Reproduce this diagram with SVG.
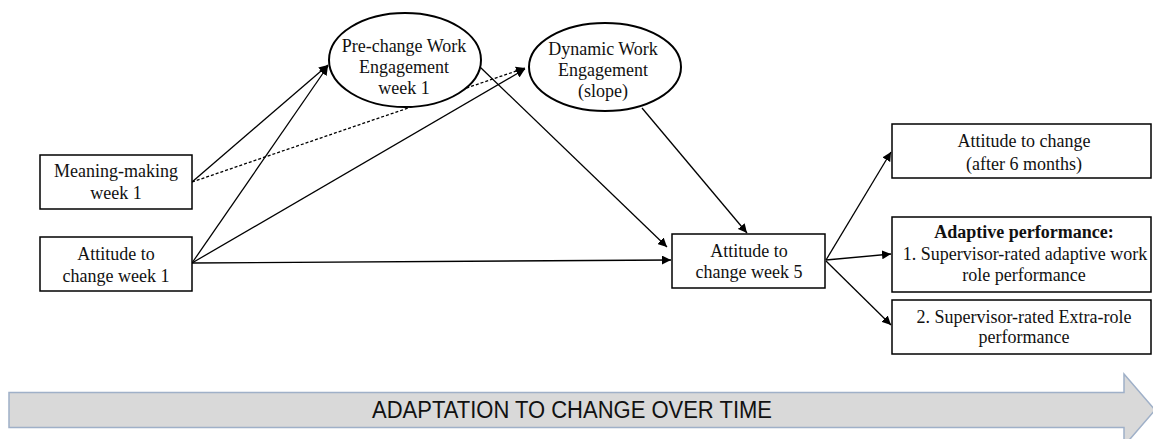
<svg xmlns="http://www.w3.org/2000/svg" width="1153" height="439" viewBox="0 0 1153 439">
<style>
.box{fill:#fff;stroke:#000;stroke-width:1.5}
.ell{fill:#fff;stroke:#000;stroke-width:2}
.t{font-family:"Liberation Serif","Times New Roman",serif;font-size:18px;fill:#111;text-anchor:middle}
.b{font-weight:bold}
.c{fill:none;stroke:#000;stroke-width:1.3;marker-end:url(#ah)}
.d{stroke-dasharray:3,2}
</style>
<defs>
<marker id="ah" viewBox="0 0 10 10" refX="10" refY="5" markerWidth="9" markerHeight="9" markerUnits="userSpaceOnUse" orient="auto">
<path d="M0,0 L10,5 L0,10 z" fill="#000"/>
</marker>
</defs>
<rect width="1153" height="439" fill="#fff"/>
<g id="connectors">
<line class="c" x1="192" y1="182" x2="328" y2="65"/>
<line class="c" x1="192" y1="263" x2="328" y2="66"/>
<line class="c d" x1="192" y1="182" x2="525" y2="68"/>
<line class="c" x1="192" y1="263" x2="525" y2="69"/>
<line class="c" x1="192" y1="263" x2="671" y2="260"/>
<line class="c" x1="480" y1="67" x2="667" y2="247"/>
<line class="c" x1="642" y1="108" x2="747" y2="233"/>
<line class="c" x1="826" y1="260" x2="891" y2="152"/>
<line class="c" x1="826" y1="260" x2="891" y2="254"/>
<line class="c" x1="826" y1="261" x2="891" y2="325"/>
</g>
<g id="meaning">
<rect class="box" x="40" y="155" width="152" height="54"/>
<text class="t" x="116" y="177">Meaning-making</text>
<text class="t" x="116" y="199">week 1</text>
</g>
<g id="attitude1">
<rect class="box" x="40" y="237" width="152" height="54"/>
<text class="t" x="116" y="260">Attitude to</text>
<text class="t" x="116" y="282">change week 1</text>
</g>
<g id="prechange">
<ellipse class="ell" cx="405" cy="60" rx="76" ry="47"/>
<text class="t" x="404" y="52">Pre-change Work</text>
<text class="t" x="404" y="73">Engagement</text>
<text class="t" x="404" y="94">week 1</text>
</g>
<g id="dynamic">
<ellipse class="ell" cx="605" cy="67" rx="76" ry="44"/>
<text class="t" x="603" y="55">Dynamic Work</text>
<text class="t" x="603" y="76">Engagement</text>
<text class="t" x="603" y="97">(slope)</text>
</g>
<g id="attitude5">
<rect class="box" x="672" y="234" width="153" height="54"/>
<text class="t" x="749" y="257">Attitude to</text>
<text class="t" x="749" y="278">change week 5</text>
</g>
<g id="attitude6m">
<rect class="box" x="892" y="124" width="259" height="54"/>
<text class="t" x="1024" y="147">Attitude to change</text>
<text class="t" x="1024" y="170">(after 6 months)</text>
</g>
<g id="adaptive">
<rect class="box" x="892" y="217" width="259" height="75"/>
<text class="t b" x="1024" y="238">Adaptive performance:</text>
<text class="t" x="1025" y="260">1. Supervisor-rated adaptive work</text>
<text class="t" x="1024" y="281">role performance</text>
</g>
<g id="extrarole">
<rect class="box" x="892" y="300" width="259" height="54"/>
<text class="t" x="1024" y="323">2. Supervisor-rated Extra-role</text>
<text class="t" x="1024" y="343">performance</text>
</g>
<g id="timeline">
<path d="M9,392.5 L1124,392.5 L1124,374 L1155,410 L1124,446 L1124,427.5 L9,427.5 Z" fill="#d9d9d9" stroke="#9fb0c8" stroke-width="1.5"/>
<text x="572" y="418" font-family="Liberation Sans, Arial, sans-serif" font-size="23" fill="#111" text-anchor="middle" textLength="400" lengthAdjust="spacingAndGlyphs">ADAPTATION TO CHANGE OVER TIME</text>
</g>
</svg>
